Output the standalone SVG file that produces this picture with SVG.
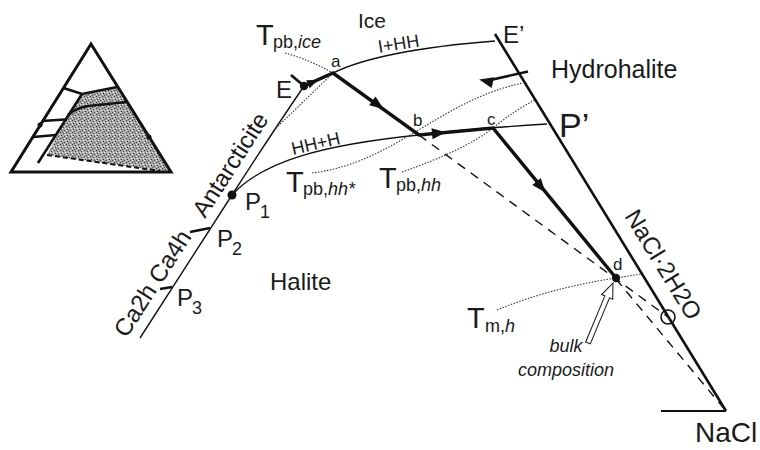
<svg xmlns="http://www.w3.org/2000/svg" width="760" height="450" viewBox="0 0 760 450">
<style>
text{font-family:"Liberation Sans",Arial,sans-serif;fill:#1a1a1a}
.thin{fill:none;stroke:#111;stroke-width:1.4}
.thick{fill:none;stroke:#111;stroke-width:3.4;stroke-linejoin:miter}
.bold{fill:none;stroke:#111;stroke-width:2.6}
.dash{fill:none;stroke:#111;stroke-width:1.4;stroke-dasharray:9,7}
.dot{fill:none;stroke:#333;stroke-width:1.1;stroke-dasharray:1.5,1.5}
.lbl{font-size:24px}
.sm{font-size:17px}
.T{font-size:29px}
.sub{font-size:18px}
.it{font-style:italic}
</style>
<defs>
<path id="ah" d="M7,0 L-7,-5.5 L-7,5.5 Z" fill="#111"/>
<pattern id="stip" width="6" height="6" patternUnits="userSpaceOnUse">
<rect width="6" height="6" fill="#a5a5a5"/>
<rect x="0" y="0" width="1" height="1" fill="#333"/>
<rect x="3" y="1" width="1" height="1" fill="#444"/>
<rect x="1" y="3" width="1" height="1" fill="#333"/>
<rect x="4" y="4" width="1" height="1" fill="#444"/>
<rect x="2" y="5" width="1" height="1" fill="#555"/>
<rect x="5" y="2" width="1" height="1" fill="#f2f2f2"/>
<rect x="2" y="2" width="1" height="1" fill="#e5e5e5"/>
<rect x="0" y="4" width="1" height="1" fill="#f2f2f2"/>
<rect x="4" y="0" width="1" height="1" fill="#e5e5e5"/>
</pattern>
</defs>

<g id="inset">
<polygon points="82,94 117,87 171,172 160,171 47,155 68,115" fill="url(#stip)"/>
<polygon points="91,44 11,172 171,172" fill="none" stroke="#111" stroke-width="3"/>
<path class="bold" d="M63.5,88 L82,94 L117,87"/>
<path class="bold" d="M82,94 L38,163"/>
<path class="bold" d="M68,115 Q76,108 88,106 L127,102"/>
<path class="bold" d="M42,121 L65,119.5 M33,137 L56,135"/>
<circle cx="40" cy="125" r="2.5" fill="#111"/>
<circle cx="149" cy="137" r="2.5" fill="#111"/>
<path d="M47,155 L160,171" fill="none" stroke="#111" stroke-width="2" stroke-dasharray="5,3"/>
</g>

<g id="connectors">
<path class="thin" d="M140,338 L232,195 Q262,148 304,86"/>
<path class="thin" d="M232,195 C262,162 320,145 419,135 C450,131 500,127 547,124"/>
<path class="thin" d="M333,73 Q380,50 495,41"/>
<path class="bold" d="M495,34 L726,411"/>
<path d="M661,411 L726,411" fill="none" stroke="#111" stroke-width="2"/>
<path class="dash" d="M419,135 L668,317"/>
<path class="dash" d="M616,279 L726,411"/>
<path class="dot" d="M285,53 Q310,60 333,73"/>
<path class="dot" d="M333,73 L273,131"/>
<path class="dot" d="M312,173 C395,163 440,100 523,83"/>
<path class="dot" d="M402,172 Q465,150 493,128 Q515,110 535,100"/>
<path class="dot" d="M497,310 Q550,288 616,278 L641,274"/>
<path class="thick" d="M304,86 L333,73 L419,135 L493,128 L616,278"/>
<use href="#ah" transform="translate(313,82) rotate(-24) scale(0.8)"/>
<use href="#ah" transform="translate(378,105) rotate(35.8)"/>
<use href="#ah" transform="translate(439,133) rotate(-5.4)"/>
<use href="#ah" transform="translate(541,187) rotate(50.6)"/>
<path class="bold" d="M528,71.5 L488,80.5"/>
<use href="#ah" transform="translate(486,81) rotate(192.7)"/>
<path class="bold" d="M291,75 L304,86"/>
<path class="bold" d="M190,232 L210,228"/>
<path class="bold" d="M160,289 L172,287"/>
<circle cx="668" cy="317" r="7" fill="none" stroke="#111" stroke-width="1.6"/>
<polygon points="0,-2.5 50,-2.5 50,-6 65,0 50,6 50,2.5 0,2.5" transform="translate(588,343) rotate(-67.4)" fill="#fff" stroke="#111" stroke-width="1"/>
</g>

<g id="points">
<circle cx="304" cy="86" r="4.2" fill="#111"/>
<circle cx="232" cy="195" r="4.5" fill="#111"/>
<circle cx="616" cy="278" r="4.2" fill="#111"/>
</g>

<g id="labels">
<text x="358" y="28" style="font-size:21px">Ice</text>
<text transform="translate(379,53) rotate(-9)" style="font-size:18px">I+HH</text>
<text y="45"><tspan class="T" x="256">T</tspan><tspan class="sub" x="273" dy="3">pb,<tspan class="it">ice</tspan></tspan></text>
<text class="lbl" x="276" y="98">E</text>
<text class="sm" x="331" y="67">a</text>
<text class="lbl" x="503" y="43">E’</text>
<text x="551" y="78" style="font-size:25px">Hydrohalite</text>
<text x="559" y="137" style="font-size:34px">P’</text>
<text class="sm" x="413" y="126">b</text>
<text class="sm" x="487" y="125">c</text>
<text transform="translate(293,155) rotate(-13)" style="font-size:18px">HH+H</text>
<text y="192"><tspan class="T" x="286">T</tspan><tspan class="sub" x="303" dy="3">pb,<tspan class="it">hh*</tspan></tspan></text>
<text y="188"><tspan class="T" x="379">T</tspan><tspan class="sub" x="396" dy="3">pb,<tspan class="it">hh</tspan></tspan></text>
<text y="210"><tspan class="lbl" x="245">P</tspan><tspan class="sub" x="260" dy="8">1</tspan></text>
<text y="247"><tspan class="lbl" x="217">P</tspan><tspan class="sub" x="232" dy="8">2</tspan></text>
<text y="306"><tspan class="lbl" x="177">P</tspan><tspan class="sub" x="192" dy="8">3</tspan></text>
<text class="lbl" transform="translate(205,219) rotate(-57.25)">Antarcticite</text>
<text class="lbl" transform="translate(126.5,338.8) rotate(-57.25)">Ca2h Ca4h</text>
<text class="lbl" x="270" y="290">Halite</text>
<text class="sm" x="613" y="270">d</text>
<text y="328"><tspan class="T" x="467">T</tspan><tspan class="sub" x="485" dy="4">m,<tspan class="it">h</tspan></tspan></text>
<text class="sub it" x="566" y="352" text-anchor="middle">bulk</text>
<text class="sub it" x="566" y="376" text-anchor="middle">composition</text>
<text class="lbl" transform="translate(624,216) rotate(58.5)">NaCl·2H2O</text>
<text x="695" y="442" style="font-size:28px">NaCl</text>
</g>
</svg>
